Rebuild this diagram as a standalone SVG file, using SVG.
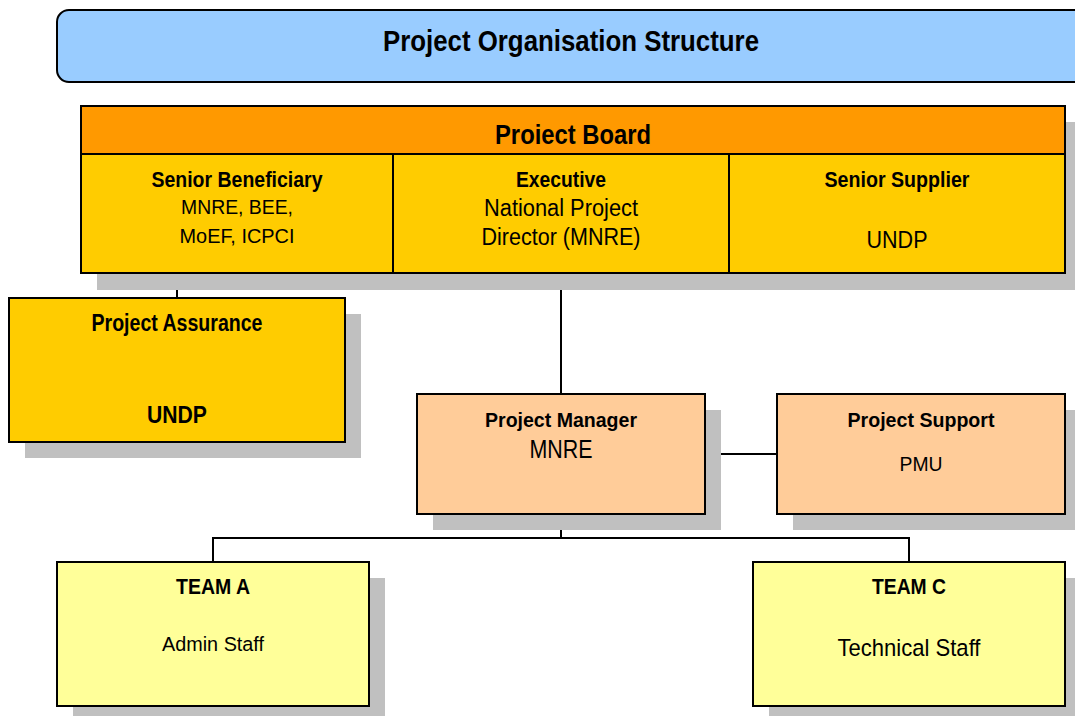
<svg xmlns="http://www.w3.org/2000/svg" width="1075" height="717" viewBox="0 0 1075 717">
  <style>
    .box { stroke: #000; stroke-width: 2; }
    .shadow { fill: #C0C0C0; }
    .wire { fill: none; stroke: #000; stroke-width: 2; }
    text { font-family: "Liberation Sans Narrow", "Liberation Sans", Arial, sans-serif; fill: #000; text-anchor: middle; }
    .b { font-weight: bold; }
  </style>

  <!-- Title banner -->
  <g id="title">
    <rect x="57" y="10" width="1040" height="72" rx="12" ry="12" fill="#99CCFF" class="box"/>
    <text x="571" y="51" class="b" font-size="29" textLength="376" lengthAdjust="spacingAndGlyphs">Project Organisation Structure</text>
  </g>

  <!-- Connectors -->
  <g id="connectors">
    <polyline class="wire" points="561,273 561,394"/>
    <polyline class="wire" points="177,298 177,286 561,286"/>
    <polyline class="wire" points="705,454 777,454"/>
    <polyline class="wire" points="561,514 561,538"/>
    <polyline class="wire" points="213,562 213,538 909,538 909,562"/>
  </g>

  <!-- Project board -->
  <g id="project-board">
    <rect x="97" y="122" width="984" height="168" class="shadow"/>
    <rect x="81" y="154" width="984" height="119" fill="#FFCC00" class="box"/>
    <rect x="81" y="106" width="984" height="48" fill="#FF9900" class="box"/>
    <line x1="393" y1="154" x2="393" y2="273" class="box"/>
    <line x1="729" y1="154" x2="729" y2="273" class="box"/>
    <text x="573" y="144" class="b" font-size="27" textLength="156" lengthAdjust="spacingAndGlyphs">Proiect Board</text>
  </g>

  <g id="senior-beneficiary">
    <text x="237" y="187" class="b" font-size="22" textLength="171" lengthAdjust="spacingAndGlyphs">Senior Beneficiary</text>
    <text x="237" y="214" font-size="21" textLength="112" lengthAdjust="spacingAndGlyphs">MNRE, BEE,</text>
    <text x="237" y="243" font-size="21" textLength="115" lengthAdjust="spacingAndGlyphs">MoEF, ICPCI</text>
  </g>

  <g id="executive">
    <text x="561" y="187" class="b" font-size="22" textLength="90" lengthAdjust="spacingAndGlyphs">Executive</text>
    <text x="561" y="216" font-size="23" textLength="154" lengthAdjust="spacingAndGlyphs">National Project</text>
    <text x="561" y="245" font-size="23" textLength="159" lengthAdjust="spacingAndGlyphs">Director (MNRE)</text>
  </g>

  <g id="senior-supplier">
    <text x="897" y="187" class="b" font-size="22" textLength="145" lengthAdjust="spacingAndGlyphs">Senior Supplier</text>
    <text x="897" y="248" font-size="23" textLength="61" lengthAdjust="spacingAndGlyphs">UNDP</text>
  </g>

  <!-- Project assurance -->
  <g id="project-assurance">
    <rect x="25" y="314" width="336" height="144" class="shadow"/>
    <rect x="9" y="298" width="336" height="144" fill="#FFCC00" class="box"/>
    <text x="177" y="331" class="b" font-size="23" textLength="171" lengthAdjust="spacingAndGlyphs">Project Assurance</text>
    <text x="177" y="423" class="b" font-size="24" textLength="60" lengthAdjust="spacingAndGlyphs">UNDP</text>
  </g>

  <!-- Project manager -->
  <g id="project-manager">
    <rect x="433" y="410" width="288" height="120" class="shadow"/>
    <rect x="417" y="394" width="288" height="120" fill="#FFCC99" class="box"/>
    <text x="561" y="427" class="b" font-size="21" textLength="152" lengthAdjust="spacingAndGlyphs">Project Manager</text>
    <text x="561" y="458" font-size="25" textLength="63" lengthAdjust="spacingAndGlyphs">MNRE</text>
  </g>

  <!-- Project support -->
  <g id="project-support">
    <rect x="793" y="410" width="288" height="120" class="shadow"/>
    <rect x="777" y="394" width="288" height="120" fill="#FFCC99" class="box"/>
    <text x="921" y="427" class="b" font-size="21" textLength="147" lengthAdjust="spacingAndGlyphs">Project Support</text>
    <text x="921" y="471" font-size="20" textLength="43" lengthAdjust="spacingAndGlyphs">PMU</text>
  </g>

  <!-- Teams -->
  <g id="team-a">
    <rect x="73" y="578" width="312" height="138" class="shadow"/>
    <rect x="57" y="562" width="312" height="144" fill="#FFFF99" class="box"/>
    <text x="213" y="594" class="b" font-size="22" textLength="74" lengthAdjust="spacingAndGlyphs">TEAM A</text>
    <text x="213" y="651" font-size="20.5" textLength="102" lengthAdjust="spacingAndGlyphs">Admin Staff</text>
  </g>

  <g id="team-c">
    <rect x="769" y="578" width="312" height="138" class="shadow"/>
    <rect x="753" y="562" width="312" height="144" fill="#FFFF99" class="box"/>
    <text x="909" y="594" class="b" font-size="22" textLength="74" lengthAdjust="spacingAndGlyphs">TEAM C</text>
    <text x="909" y="656" font-size="24.5" textLength="143" lengthAdjust="spacingAndGlyphs">Technical Staff</text>
  </g>
</svg>
